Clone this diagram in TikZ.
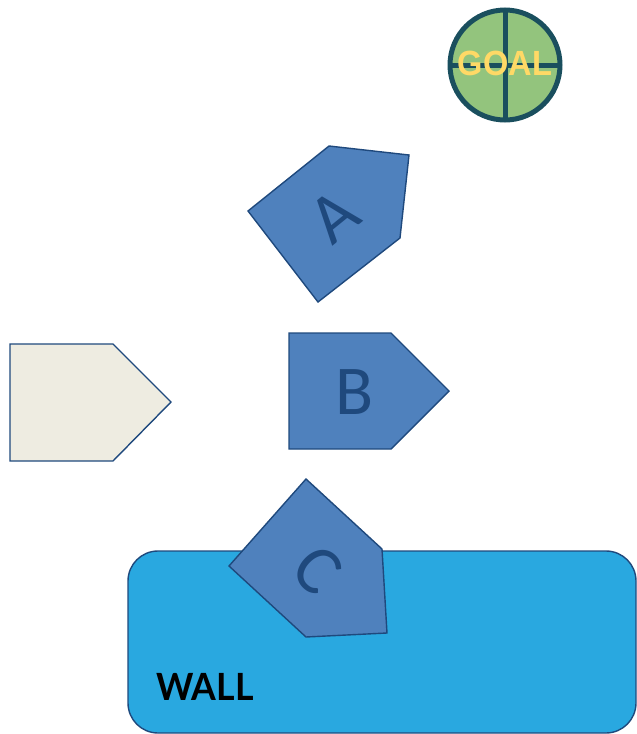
\documentclass[tikz,border=0pt]{standalone}
\usepackage{fontspec}
\usetikzlibrary{calc}
\newfontfamily\letterfont{Carlito}
\newfontfamily\labelfont{Liberation Sans}
\newfontfamily\wallfont{Lato}
\definecolor{shapeblue}{HTML}{4F81BD}
\definecolor{edgeblue}{HTML}{1F497D}
\definecolor{paleshape}{HTML}{EEECE1}
\definecolor{wallblue}{HTML}{29A8E0}
\definecolor{goalgreen}{HTML}{93C47D}
\definecolor{goalring}{HTML}{1A4F5E}
\definecolor{goalyellow}{HTML}{FFD966}
\tikzset{
  piece/.style={fill=shapeblue, draw=edgeblue, line width=1.4pt, line join=miter},
  blank/.style={fill=paleshape, draw=edgeblue, line width=1.4pt},
  letter/.style={inner sep=0pt, text=edgeblue, font=\letterfont\fontsize{70}{80}\selectfont},
  wallbox/.style={fill=wallblue, draw=edgeblue, line width=1.4pt, rounded corners=30pt},
}
\begin{document}
\begin{tikzpicture}[x=1pt, y=-1pt]
\useasboundingbox (0,0) rectangle (637,734);

% wall
\draw[wallbox] (128,551) rectangle (636,733);
\node[anchor=base west, inner sep=0pt, xscale=0.95, font=\wallfont\bfseries\fontsize{37.5}{40}\selectfont] (wall) at (156,700) {WALL};

% goal marker
\coordinate (g) at (505,65);
\fill[goalgreen] (g) circle (55);
\draw[goalring, line width=5pt] ($(g)+(0,-55)$) -- ($(g)+(0,55)$);
\draw[goalring, line width=5pt] ($(g)+(-55,0)$) -- ($(g)+(55,0)$);
\draw[goalring, line width=5pt] (g) circle (55);
\node[inner sep=0pt, text=goalyellow, font=\labelfont\bfseries\fontsize{35}{40}\selectfont, xscale=0.93] (goal) at (505,63) {GOAL};

% blank piece
\draw[blank] (10,344) -- (113,344) -- (171,402) -- (113,461) -- (10,461) -- cycle;

% piece A
\draw[piece] (329,146) -- (409,155) -- (400,238) -- (318,302) -- (248,211) -- cycle;
\node[letter, rotate=39] (a) at (334,216) {A};

% piece B
\draw[piece] (289,333) -- (391,333) -- (449,391) -- (391,449) -- (289,449) -- cycle;
\node[letter] (b) at (355,392) {B};

% piece C
\draw[piece] (306,479) -- (382,549) -- (387,633) -- (306,637) -- (229,566) -- cycle;
\node[letter, rotate=-45] (c) at (318,570) {C};
\end{tikzpicture}
\end{document}
